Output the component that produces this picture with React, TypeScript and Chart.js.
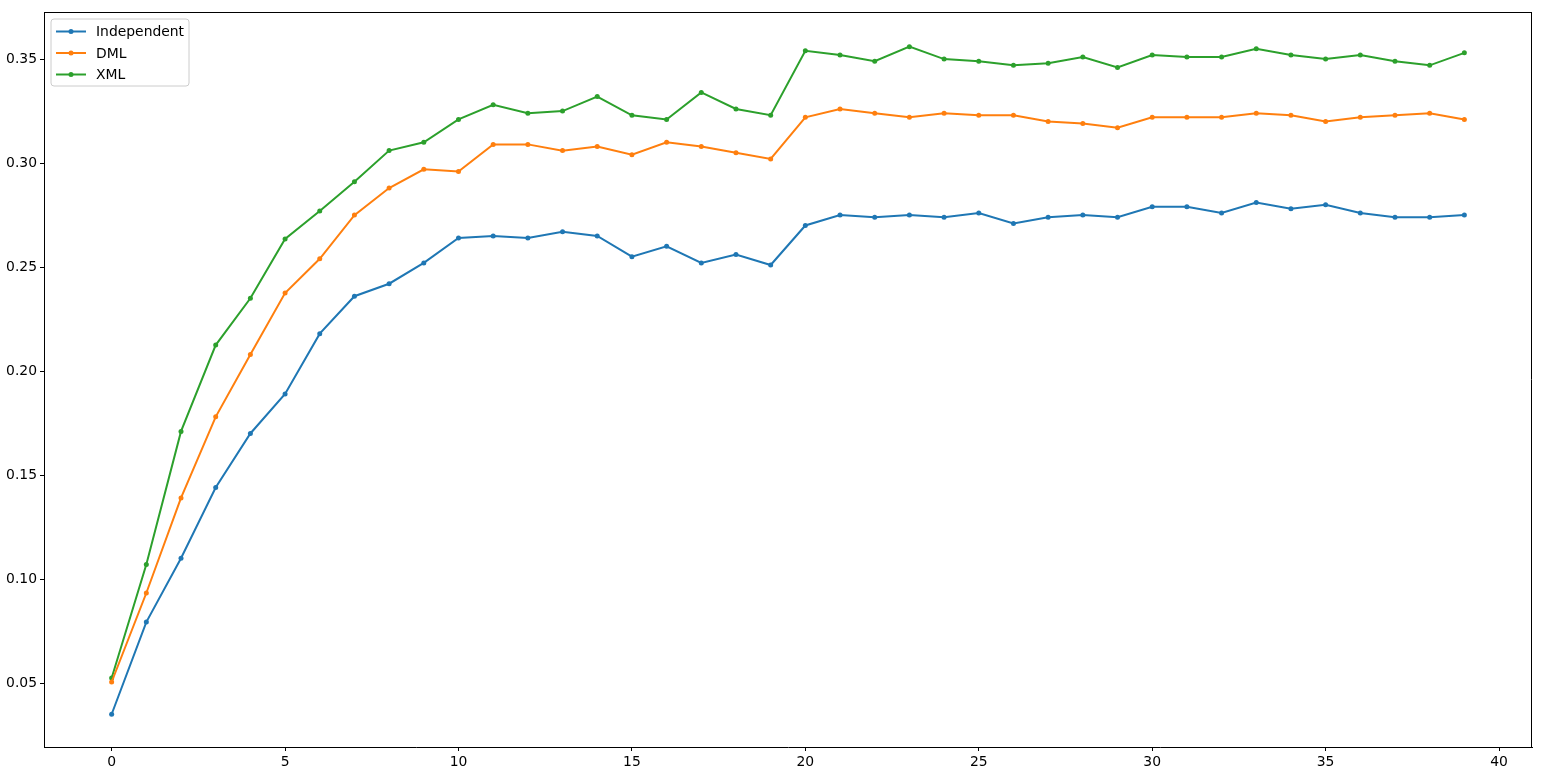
import React, { useEffect, useRef } from "react";
import { Chart, registerables } from "chart.js";

Chart.register(...registerables);

const epochs: number[] = Array.from({ length: 40 }, (_, i) => i);

const independent: number[] = [
  0.035, 0.0793, 0.11, 0.144, 0.17, 0.189, 0.218, 0.236, 0.242, 0.252,
  0.264, 0.265, 0.264, 0.267, 0.265, 0.255, 0.26, 0.252, 0.256, 0.251,
  0.27, 0.275, 0.274, 0.275, 0.274, 0.276, 0.271, 0.274, 0.275, 0.274,
  0.279, 0.279, 0.276, 0.281, 0.278, 0.28, 0.276, 0.274, 0.274, 0.275,
];

const dml: number[] = [
  0.0505, 0.0933, 0.139, 0.178, 0.208, 0.2375, 0.254, 0.275, 0.288, 0.297,
  0.296, 0.309, 0.309, 0.306, 0.308, 0.304, 0.31, 0.308, 0.305, 0.302,
  0.322, 0.326, 0.324, 0.322, 0.324, 0.323, 0.323, 0.32, 0.319, 0.317,
  0.322, 0.322, 0.322, 0.324, 0.323, 0.32, 0.322, 0.323, 0.324, 0.321,
];

const xml: number[] = [
  0.0524, 0.107, 0.171, 0.2125, 0.235, 0.2635, 0.277, 0.291, 0.306, 0.31,
  0.321, 0.328, 0.324, 0.325, 0.332, 0.323, 0.321, 0.334, 0.326, 0.323,
  0.354, 0.352, 0.349, 0.356, 0.35, 0.349, 0.347, 0.348, 0.351, 0.346,
  0.352, 0.351, 0.351, 0.355, 0.352, 0.35, 0.352, 0.349, 0.347, 0.353,
];

const seriesNames: string[] = ["Independent", "DML", "XML"];
const seriesColors: string[] = ["#1f77b4", "#ff7f0e", "#2ca02c"];
const xTicks: number[] = [0, 5, 10, 15, 20, 25, 30, 35, 40];
const yTicks: number[] = [0.05, 0.1, 0.15, 0.2, 0.25, 0.3, 0.35];

const FONT = "'DejaVu Sans', sans-serif";

const legendPlugin = {
  id: "mplLegend",
  afterDraw(chart: any) {
    const ctx = chart.ctx as CanvasRenderingContext2D;
    const area = chart.chartArea;
    const x0 = area.left + 7;
    const y0 = area.top + 7;
    const w = 138;
    const h = 67;
    ctx.save();
    ctx.beginPath();
    const r = 3;
    ctx.moveTo(x0 + r, y0);
    ctx.lineTo(x0 + w - r, y0);
    ctx.quadraticCurveTo(x0 + w, y0, x0 + w, y0 + r);
    ctx.lineTo(x0 + w, y0 + h - r);
    ctx.quadraticCurveTo(x0 + w, y0 + h, x0 + w - r, y0 + h);
    ctx.lineTo(x0 + r, y0 + h);
    ctx.quadraticCurveTo(x0, y0 + h, x0, y0 + h - r);
    ctx.lineTo(x0, y0 + r);
    ctx.quadraticCurveTo(x0, y0, x0 + r, y0);
    ctx.closePath();
    ctx.fillStyle = "rgba(255,255,255,0.8)";
    ctx.fill();
    ctx.strokeStyle = "#cccccc";
    ctx.lineWidth = 1;
    ctx.stroke();
    ctx.font = `13.9px ${FONT}`;
    ctx.textBaseline = "middle";
    ctx.textAlign = "left";
    chart.data.datasets.forEach((ds: any, i: number) => {
      const cy = y0 + 12.5 + i * 21.5;
      ctx.strokeStyle = ds.borderColor;
      ctx.lineWidth = 2;
      ctx.beginPath();
      ctx.moveTo(x0 + 5, cy);
      ctx.lineTo(x0 + 35, cy);
      ctx.stroke();
      ctx.fillStyle = ds.borderColor;
      ctx.beginPath();
      ctx.arc(x0 + 20, cy, 2.5, 0, Math.PI * 2);
      ctx.fill();
      ctx.fillStyle = "#000";
      ctx.fillText(ds.label, x0 + 45, cy + 1);
    });
    ctx.restore();
  },
};

export default function App() {
  const ref = useRef<HTMLCanvasElement | null>(null);

  useEffect(() => {
    if (!ref.current) return;
    const allSeries = [independent, dml, xml];
    const chart = new Chart(ref.current, {
      type: "line",
      data: {
        datasets: allSeries.map((vals, i) => ({
          label: seriesNames[i],
          data: vals.map((v, j) => ({ x: epochs[j], y: v })),
          borderColor: seriesColors[i],
          backgroundColor: seriesColors[i],
          borderWidth: 2,
          pointRadius: 2.5,
          pointBorderWidth: 0,
          pointHoverRadius: 2.5,
          fill: false,
          tension: 0,
        })),
      },
      options: {
        animation: false,
        responsive: false,
        maintainAspectRatio: false,
        events: [],
        layout: { padding: { left: 0, right: 10, top: 12, bottom: 0 } },
        plugins: {
          legend: { display: false },
          tooltip: { enabled: false },
        },
        scales: {
          x: {
            type: "linear",
            min: -1.95,
            max: 40.95,
            afterBuildTicks: (scale: any) => {
              scale.ticks = xTicks.map((v) => ({ value: v }));
            },
            afterFit: (scale: any) => {
              scale.height = 37;
            },
            grid: {
              display: true,
              drawOnChartArea: false,
              drawTicks: true,
              tickLength: 4,
              tickColor: "#000",
              tickWidth: 1,
            },
            border: { display: true, color: "#000", width: 1 },
            ticks: {
              color: "#000",
              padding: 3,
              maxRotation: 0,
              autoSkip: false,
              font: { family: FONT, size: 13.9 },
              callback: (v: any) => String(v),
            },
          },
          y: {
            type: "linear",
            min: 0.01925,
            max: 0.37265,
            afterBuildTicks: (scale: any) => {
              scale.ticks = yTicks.map((v) => ({ value: v }));
            },
            afterFit: (scale: any) => {
              scale.width = 44;
            },
            grid: {
              display: true,
              drawOnChartArea: false,
              drawTicks: true,
              tickLength: 4,
              tickColor: "#000",
              tickWidth: 1,
            },
            border: { display: true, color: "#000", width: 1 },
            ticks: {
              color: "#000",
              padding: 3,
              autoSkip: false,
              font: { family: FONT, size: 13.9 },
              callback: (v: any) => Number(v).toFixed(2),
            },
          },
        },
      },
      plugins: [
        legendPlugin,
        {
          id: "frame",
          afterDraw(chart: any) {
            const ctx = chart.ctx as CanvasRenderingContext2D;
            const a = chart.chartArea;
            ctx.save();
            ctx.strokeStyle = "#000";
            ctx.lineWidth = 1;
            ctx.beginPath();
            ctx.moveTo(a.left, a.top + 0.5);
            ctx.lineTo(a.right, a.top + 0.5);
            ctx.moveTo(a.right - 0.5, a.top);
            ctx.lineTo(a.right - 0.5, a.bottom);
            ctx.stroke();
            ctx.restore();
          },
        },
      ],
    } as any);
    return () => chart.destroy();
  }, []);

  return (
    <div style={{ position: "fixed", left: 0, top: 0, width: 1542, height: 784, background: "#fff" }}>
      <canvas ref={ref} width={1542} height={784} style={{ width: 1542, height: 784, display: "block" }} />
    </div>
  );
}
